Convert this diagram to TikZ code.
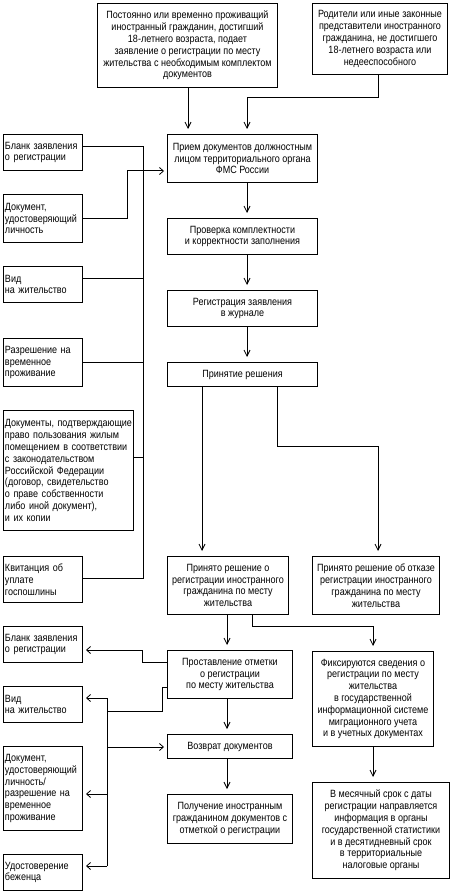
\documentclass[tikz,border=0pt]{standalone}
\usepackage{fontspec}
\setmainfont{Liberation Sans}[FakeStretch=0.86]
\usetikzlibrary{arrows.meta}
\begin{document}
\begin{tikzpicture}[x=1pt,y=-1pt,
  bx/.style={draw, line width=1pt, inner sep=2pt, anchor=north west, font=\fontsize{10.5}{11.8}\selectfont},
  cbx/.style={bx, align=center},
  lbx/.style={bx, align=left, inner xsep=1.5pt},
  ln/.style={line width=1pt},
  va/.style={ln, -{Straight Barb[length=6pt,width=6pt,line width=0.8pt]}, shorten >=5pt},
  ha/.style={ln, -{Straight Barb[length=4pt,width=7pt,line width=0.8pt]}, shorten >=3pt}]
\useasboundingbox[fill=white] (0,0) rectangle (450,893);

% boxes
\node[cbx, minimum width=180pt, minimum height=84pt] (A) at (97,3) {Постоянно или временно проживащий\\иностранный гражданин, достигший\\18-летнего возраста, подает\\заявление о регистрации по месту\\жительства с необходимым комплектом\\документов};
\node[cbx, minimum width=135pt, minimum height=71pt] (B) at (312,3) {Родители или иные законные\\представители иностранного\\гражданина, не достигшего\\18-летнего возраста или\\недееспособного};

\node[lbx, text width=76pt, minimum height=36pt] (L1) at (3,134) {Бланк заявления\\о регистрации};
\node[lbx, text width=76pt, minimum height=48pt] (L2) at (3,194) {Документ,\\удостоверяющий\\личность};
\node[lbx, text width=76pt, minimum height=36pt] (L3) at (3,266) {Вид\\на жительство};
\node[lbx, text width=76pt, minimum height=48pt] (L4) at (3,338) {Разрешение на\\временное\\проживание};
\node[lbx, text width=127pt, minimum height=120pt] (L5) at (3,410) {Документы,~подтверждающие\\право пользования жилым\\помещением~в~соответствии\\с законодательством\\Российской Федерации\\(договор, свидетельство\\о праве собственности\\либо иной документ),\\и их копии};
\node[lbx, text width=76pt, minimum height=46pt] (L6) at (3,556) {Квитанция об\\уплате\\госпошлины};

\node[cbx, minimum width=150pt, minimum height=48pt] (C1) at (167,134) {Прием документов должностным\\лицом территориального органа\\ФМС России};
\node[cbx, minimum width=150pt, minimum height=36pt] (C2) at (167,218) {Проверка комплектности\\и корректности заполнения};
\node[cbx, minimum width=150pt, minimum height=36pt] (C3) at (167,290) {Регистрация заявления\\в журнале};
\node[cbx, minimum width=150pt, minimum height=24pt] (C4) at (167,362) {Принятие решения};
\node[cbx, minimum width=121pt, minimum height=58pt] (C5) at (167,556) {Принято решение о\\регистрации иностранного\\гражданина по месту\\жительства};
\node[cbx, minimum width=127pt, minimum height=58pt] (R1) at (312,556) {Принято решение об отказе\\регистрации иностранного\\гражданина по месту\\жительства};

\node[lbx, text width=76pt, minimum height=36pt] (L7) at (3,626) {Бланк заявления\\о регистрации};
\node[cbx, minimum width=125pt, minimum height=48pt] (C6) at (167,650) {Проставление отметки\\о регистрации\\по месту жительства};
\node[cbx, minimum width=121pt, minimum height=95pt] (R2) at (312,651) {Фиксируются сведения о\\регистрации по месту\\жительства\\в государственной\\информационной системе\\миграционного учета\\и в учетных документах};
\node[lbx, text width=76pt, minimum height=36pt] (L8) at (3,686) {Вид\\на жительство};
\node[cbx, minimum width=125pt, minimum height=24pt] (C7) at (167,734) {Возврат документов};
\node[lbx, text width=76pt, minimum height=84pt] (L9) at (3,746) {Документ,\\удостоверяющий\\личность/\\разрешение на\\временное\\проживание};
\node[cbx, minimum width=125pt, minimum height=49pt] (C8) at (167,794) {Получение иностранным\\гражданином документов с\\отметкой о регистрации};
\node[cbx, minimum width=137pt, minimum height=96pt] (R3) at (312,782) {В месячный срок с даты\\регистрации направляется\\информация в органы\\государственной статистики\\и в десятидневный срок\\в территориальные\\налоговые органы};
\node[lbx, text width=76pt, minimum height=36pt] (L10) at (3,854) {Удостоверение\\беженца};

% coordinates
\coordinate (b1top) at (143,147);
\coordinate (b1bot) at (143,578);
\coordinate (k2) at (127,171);
\coordinate (jB) at (247,98);
\coordinate (jR1) at (378,446);
\coordinate (jR2) at (373,626);
\coordinate (j7) at (142,650);
\coordinate (j8) at (162,711);
\coordinate (b2top) at (107,698);
\coordinate (b2bot) at (107,866);
\coordinate (b2mid) at (107,794);
\coordinate (b2ret) at (107,747);

% top connectors
\draw[va] (A.south -| 188,0) -- (C1.north -| 188,0);
\draw[va] (B.south -| 378,0) |- (jB) -- (C1.north -| jB);

% bus 1
\draw[ln] (L1.east |- b1top) -- (b1top) -- (b1bot) -- (L6.east |- b1bot);
\draw[ln] (L3.east |- 0,278) -- (b1top |- 0,278);
\draw[ln] (L4.east |- 0,362) -- (b1top |- 0,362);
\draw[ln] (L5.east |- 0,457) -- (b1top |- 0,457);
\draw[ha] (L2.east) -| (k2) -- (C1.west |- k2);

% main chain
\draw[va] (C1.south -| 247,0) -- (C2.north -| 247,0);
\draw[va] (C2.south -| 247,0) -- (C3.north -| 247,0);
\draw[va] (C3.south -| 247,0) -- (C4.north -| 247,0);
\draw[va] (C4.south -| 202,0) -- (C5.north -| 202,0);
\draw[va] (C4.south -| 277,0) |- (jR1) -- (R1.north -| jR1);
\draw[va] (C5.south -| 227,0) -- (C6.north -| 227,0);
\draw[va] (C5.south -| 252,0) |- (jR2) -- (R2.north -| jR2);
\draw[va] (C6.south -| 227,0) -- (C7.north -| 227,0);
\draw[va] (C7.south -| 227,0) -- (C8.north -| 227,0);
\draw[va] (R2.south -| 373,0) -- (R3.north -| 373,0);

% bottom left
\draw[ha] (C6.west |- 0,662) -| (j7) -- (L7.east |- j7);
\draw[ln] (C6.west |- 0,687) -| (j8) -- (b2top |- j8);
\draw[ln] (b2top) -- (b2bot);
\draw[ha] (b2top) -- (L8.east |- b2top);
\draw[ha] (b2mid) -- (L9.east |- b2mid);
\draw[ha] (b2bot) -- (L10.east |- b2bot);
\draw[ha] (b2ret) -- (C7.west |- b2ret);
\end{tikzpicture}
\end{document}
